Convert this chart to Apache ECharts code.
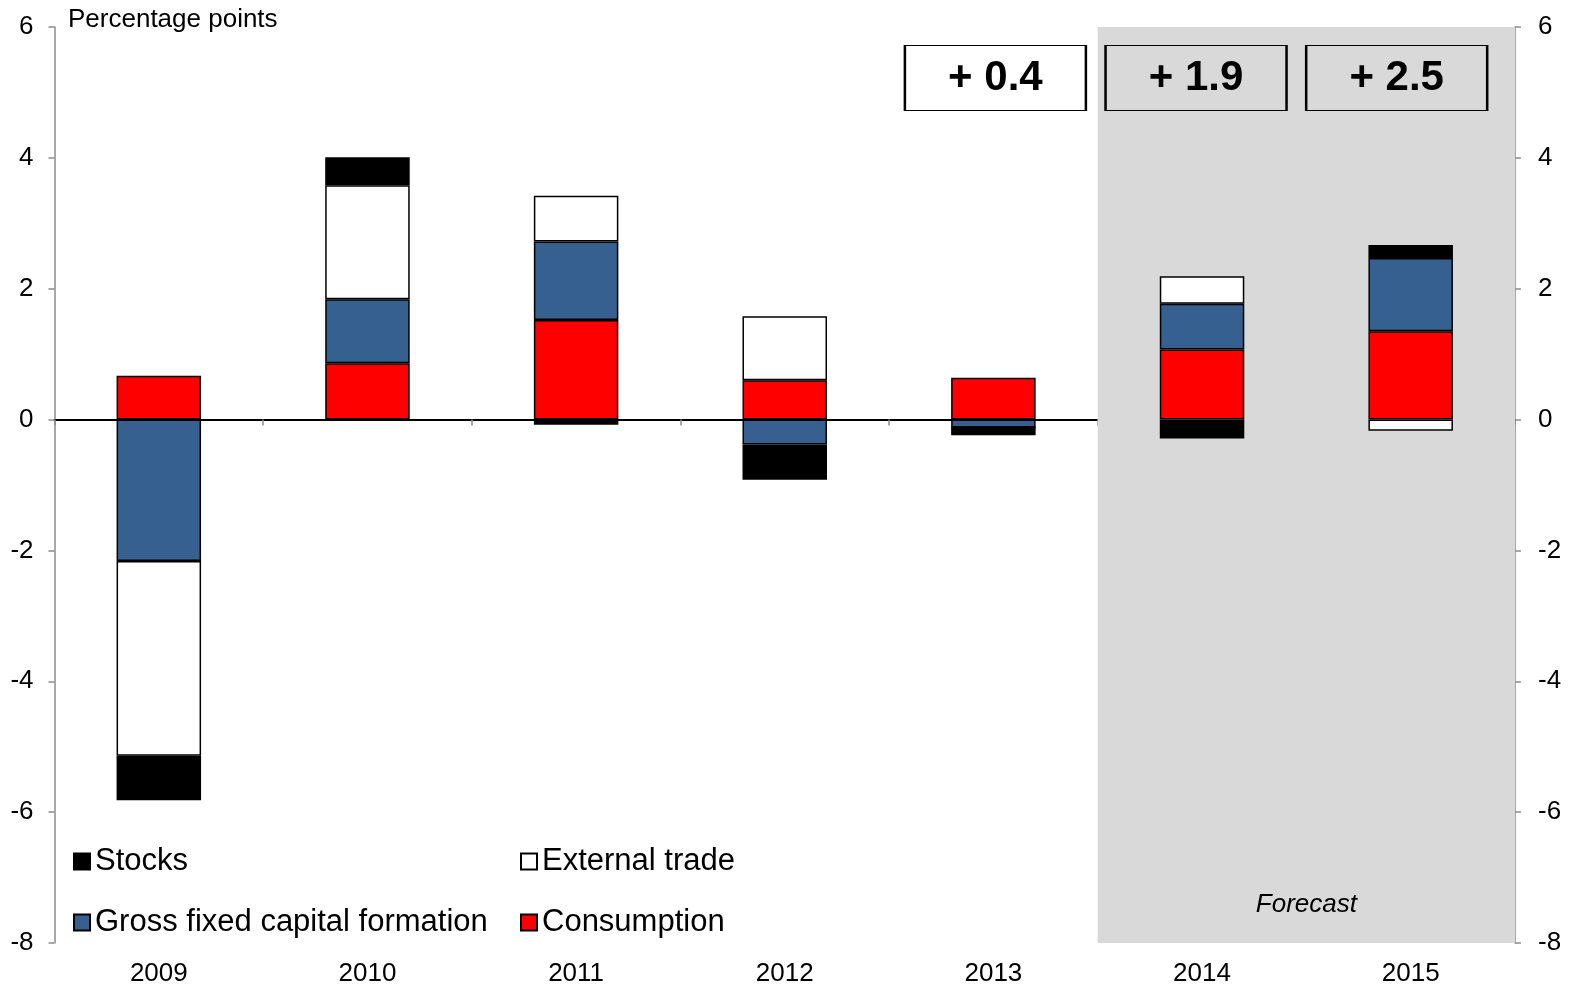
<!DOCTYPE html>
<html>
<head>
<meta charset="utf-8">
<title>Contributions to GDP growth</title>
<script src="https://cdn.jsdelivr.net/npm/echarts@6/dist/echarts.min.js"></script>
<style>
  html, body { margin: 0; padding: 0; background: #fff; }
  #chart { width: 1575px; height: 985px; }
</style>
</head>
<body>
<div id="chart"></div>
<script>
// Contributions to GDP growth, percentage points
const years = ['2009', '2010', '2011', '2012', '2013', '2014', '2015'];
const consumption = [0.67, 0.86, 1.52, 0.60, 0.64, 1.07, 1.35];
const grossFixedCapital = [-2.16, 0.98, 1.20, -0.38, -0.12, 0.70, 1.12];
const externalTrade = [-2.98, 1.74, 0.70, 0.98, 0.00, 0.42, -0.17];
const stocks = [-0.68, 0.43, -0.08, -0.54, -0.12, -0.29, 0.20];

// GDP growth shown in the boxes above the last three years
const growthYears = ['2013', '2014', '2015'];
const growthValues = [0.4, 1.9, 2.5];

const yTicks = { min: -8, max: 6, interval: 2 };
const forecastFrom = 5; // index of the first forecast year

const FONT = 'Liberation Sans, Arial, sans-serif';
const BOX_Y = 5.22;
const boxShift = [2, -6, -14]; // horizontal nudge of each growth box, px

const chart = echarts.init(document.getElementById('chart'));

const barStyle = (color) => ({ color: color, borderColor: '#000', borderWidth: 1.5 });
const barSeries = (name, data, color) => ({
  name: name,
  type: 'bar',
  stack: 'contrib',
  xAxisIndex: 0,
  yAxisIndex: 0,
  barWidth: '40.5%',
  data: data,
  itemStyle: barStyle(color),
  emphasis: { disabled: true },
  z: 3
});

const legendItem = (name, left, top) => ({
  data: [name],
  left: left,
  top: top,
  padding: 0,
  icon: 'rect',
  itemWidth: 16,
  itemHeight: 16,
  selectedMode: false,
  textStyle: { fontFamily: FONT, fontSize: 31, color: '#000' }
});

const yAxisCommon = (pos, margin) => ({
  type: 'value',
  position: pos,
  min: yTicks.min,
  max: yTicks.max,
  interval: yTicks.interval,
  splitLine: { show: false },
  axisLine: { show: true, lineStyle: { color: '#8c8c8c', width: 1.5 } },
  axisTick: { show: true, length: 6, lineStyle: { color: '#8c8c8c', width: 1.5 } },
  axisLabel: { fontFamily: FONT, fontSize: 26, color: '#000', margin: margin }
});

chart.setOption({
  animation: false,
  backgroundColor: '#fff',
  title: {
    text: 'Percentage points',
    left: 68,
    top: 7,
    padding: 0,
    textStyle: { fontFamily: FONT, fontSize: 26, fontWeight: 'normal', color: '#000' }
  },
  grid: { left: 54.5, right: 60, top: 27, bottom: 42, outerBoundsMode: 'none' },
  legend: [
    legendItem('Stocks', 73, 846),
    legendItem('External trade', 520, 846),
    legendItem('Gross fixed capital formation', 73, 907),
    legendItem('Consumption', 520, 907)
  ],
  xAxis: [
    {
      type: 'category',
      data: years,
      position: 'bottom',
      axisLine: { show: false, onZero: false },
      axisTick: { show: false },
      axisLabel: { fontFamily: FONT, fontSize: 26, color: '#000', margin: 18 }
    },
    {
      type: 'category',
      data: years,
      position: 'bottom',
      axisLine: { show: true, onZero: true, lineStyle: { color: '#000', width: 2 } },
      axisTick: { show: true, length: 6, lineStyle: { color: '#8c8c8c', width: 1.5 } },
      axisLabel: { show: false }
    },
    {
      type: 'value',
      min: 0,
      max: years.length,
      show: false
    }
  ],
  yAxis: [yAxisCommon('left', 21), yAxisCommon('right', 23)],
  series: [
    {
      name: 'forecastArea',
      type: 'line',
      xAxisIndex: 2,
      yAxisIndex: 0,
      data: [],
      silent: true,
      z: 0,
      markArea: {
        silent: true,
        itemStyle: { color: '#d9d9d9' },
        label: {
          show: true,
          position: 'insideBottom',
          distance: 25,
          formatter: 'Forecast',
          fontFamily: FONT,
          fontSize: 26,
          fontStyle: 'italic',
          color: '#000'
        },
        data: [[{ xAxis: forecastFrom }, { xAxis: years.length }]]
      }
    },
    barSeries('Consumption', consumption, '#ff0000'),
    barSeries('Gross fixed capital formation', grossFixedCapital, '#35608f'),
    barSeries('External trade', externalTrade, '#ffffff'),
    barSeries('Stocks', stocks, '#000000'),
    {
      name: 'growth',
      type: 'scatter',
      xAxisIndex: 0,
      yAxisIndex: 0,
      symbol: 'rect',
      symbolSize: [181, 65],
      silent: true,
      z: 4,
      data: growthYears.map((y, i) => ({
        value: [years.indexOf(y), BOX_Y, growthValues[i]],
        symbolOffset: [boxShift[i], 0],
        itemStyle: {
          color: years.indexOf(y) >= forecastFrom ? '#d9d9d9' : '#ffffff',
          borderColor: '#000',
          borderWidth: 1.5,
          opacity: 1
        }
      })),
      label: {
        show: true,
        position: 'inside',
        formatter: (p) => '+ ' + p.value[2].toFixed(1),
        fontFamily: FONT,
        fontSize: 42,
        fontWeight: 'bold',
        color: '#000'
      }
    }
  ]
});
</script>
</body>
</html>
